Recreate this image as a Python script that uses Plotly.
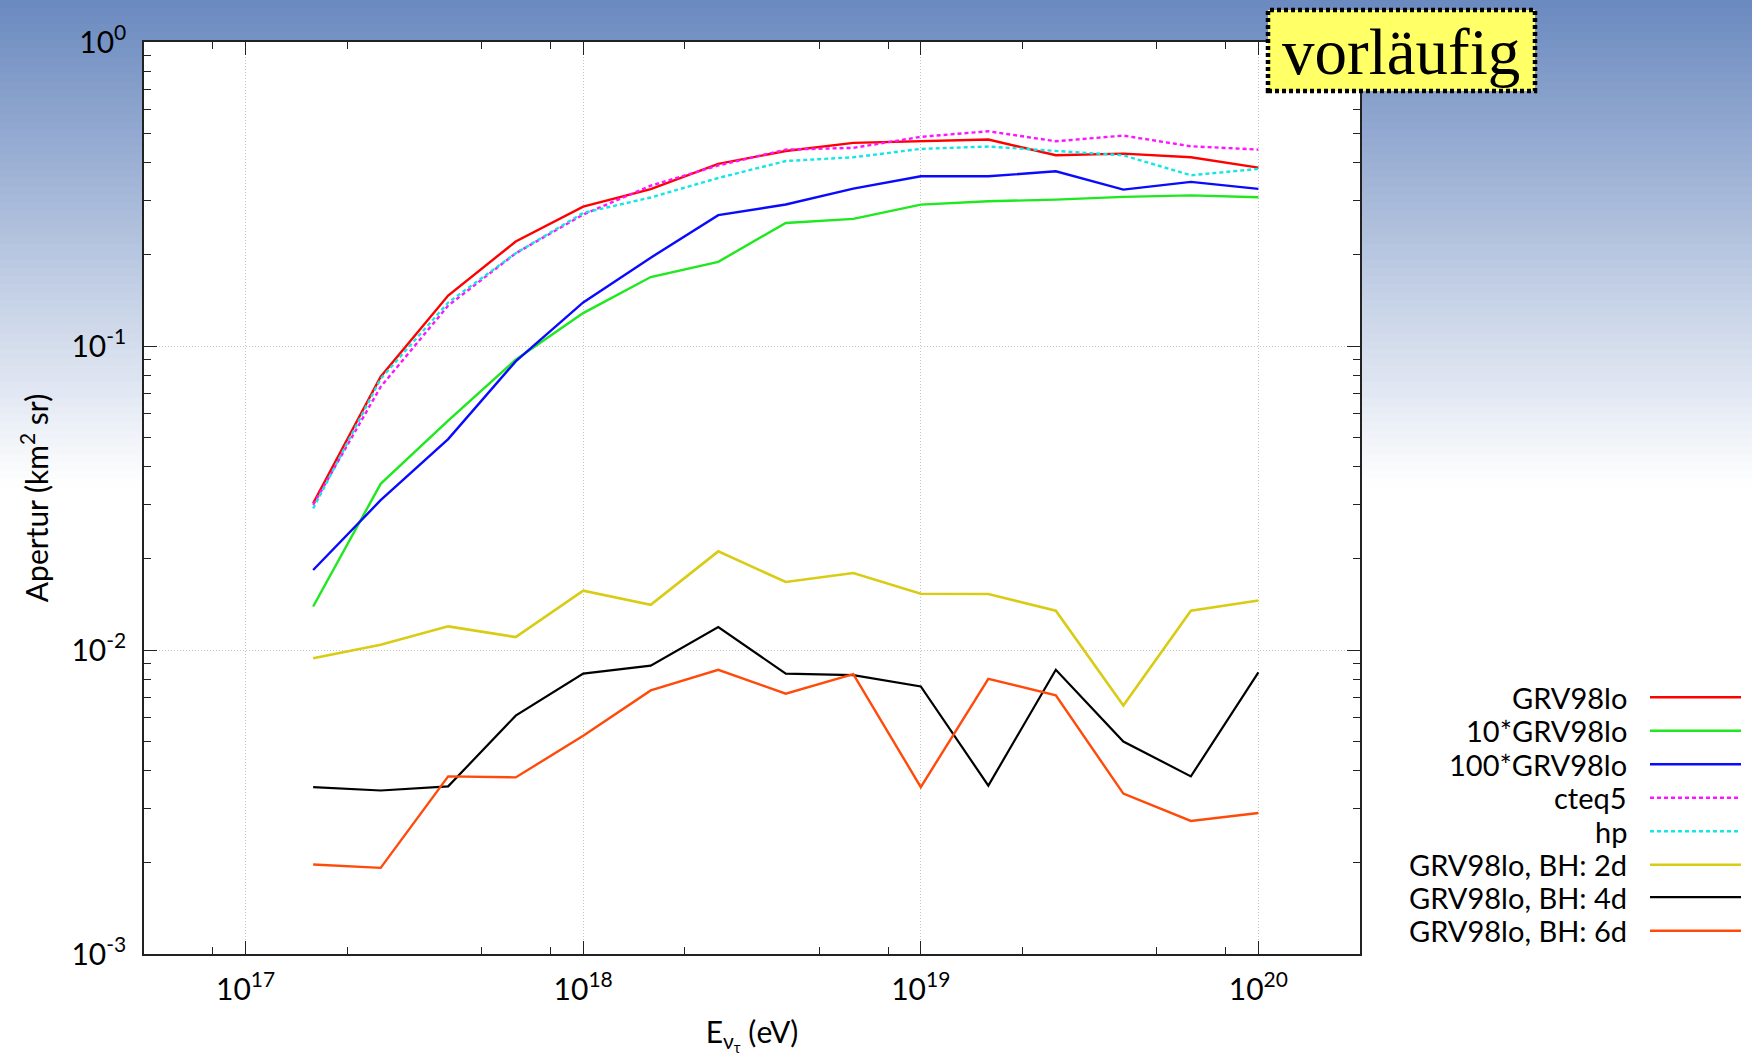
import math
import plotly.graph_objects as go

# ---------------- DATA ----------------
energy_eV = [1.585e17, 2.512e17, 3.981e17, 6.310e17, 1.000e18, 1.585e18, 2.512e18,
             3.981e18, 6.310e18, 1.000e19, 1.585e19, 2.512e19, 3.981e19, 6.310e19, 1.000e20]

grv98lo = [0.0304, 0.0793, 0.1466, 0.2206, 0.2873, 0.328, 0.3975, 0.438,
           0.4657, 0.4714, 0.4777, 0.4240, 0.4295, 0.4176, 0.386]
grv98lo_x10 = [0.0139, 0.0352, 0.0568, 0.0901, 0.1283, 0.1686, 0.1892, 0.254,
               0.262, 0.2918, 0.2993, 0.3031, 0.3093, 0.313, 0.3085]
grv98lo_x100 = [0.01833, 0.0311, 0.0494, 0.0890, 0.1391, 0.1952, 0.2695, 0.292,
                0.3295, 0.3616, 0.3616, 0.3756, 0.3269, 0.3465, 0.3286]
cteq5 = [0.0300, 0.0734, 0.1358, 0.2018, 0.2707, 0.3367, 0.3925, 0.4426,
         0.4485, 0.4875, 0.5086, 0.4715, 0.4922, 0.454, 0.4427]
hp = [0.0292, 0.078, 0.139, 0.2018, 0.274, 0.308, 0.357, 0.406,
      0.4176, 0.445, 0.453, 0.438, 0.424, 0.3644, 0.3825]
bh_2d = [0.0094, 0.01041, 0.01196, 0.01103, 0.01567, 0.01409, 0.02111, 0.01674,
         0.01792, 0.01532, 0.01528, 0.01346, 0.00657, 0.01346, 0.01455]
bh_4d = [0.00354, 0.00345, 0.00356, 0.00608, 0.00836, 0.00888, 0.0119, 0.00836,
         0.00827, 0.00759, 0.00358, 0.00861, 0.0050, 0.00384, 0.00844]
bh_6d = [0.00197, 0.00192, 0.00384, 0.00381, 0.00522, 0.00736, 0.00861, 0.00718,
         0.00833, 0.00354, 0.00804, 0.00709, 0.00337, 0.00274, 0.00291]

series_names = ["GRV98lo", "10*GRV98lo", "100*GRV98lo", "cteq5", "hp",
                "GRV98lo, BH: 2d", "GRV98lo, BH: 4d", "GRV98lo, BH: 6d"]

x_major = [1e17, 1e18, 1e19, 1e20]
x_major_labels = ["10<sup>17</sup>", "10<sup>18</sup>", "10<sup>19</sup>", "10<sup>20</sup>"]
x_minor = [8e16, 2e17, 5e17, 8e17, 2e18, 5e18, 8e18, 2e19, 5e19, 8e19]
y_major = [1e-3, 1e-2, 1e-1, 1e0]
y_major_labels = ["10<sup>-3</sup>", "10<sup>-2</sup>", "10<sup>-1</sup>", "10<sup>0</sup>"]
y_minor = [m * d for d in (1e-3, 1e-2, 1e-1) for m in (2, 3, 4, 5, 6, 7, 8, 9)]

x_title = "E<sub>ν<sub>τ</sub></sub> (eV)"
y_title = "Apertur (km<sup>2</sup> sr)"
stamp_text = "vorläufig"

# ---------------- STYLE ----------------
W, H = 1752, 1062
ML, MR, MT, MB = 144, 392, 42, 108
PW, PH = W - ML - MR, H - MT - MB
FONT = "Lato"

def px_x(X):
    return (X - ML) / PW

def px_y(Y):
    return (H - MB - Y) / PH

styles = [
    dict(color="#ff0000", width=2.4, dash="solid"),
    dict(color="#1ee81e", width=2.4, dash="solid"),
    dict(color="#0a0aff", width=2.4, dash="solid"),
    dict(color="#ff14ff", width=2.4, dash="4px,3px"),
    dict(color="#14e6e6", width=2.4, dash="4px,3px"),
    dict(color="#d8cc14", width=2.6, dash="solid"),
    dict(color="#000000", width=2.2, dash="solid"),
    dict(color="#ff4a0a", width=2.4, dash="solid"),
]
all_series = [grv98lo, grv98lo_x10, grv98lo_x100, cteq5, hp, bh_2d, bh_4d, bh_6d]

fig = go.Figure()
for name, ys, st in zip(series_names, all_series, styles):
    fig.add_trace(go.Scatter(x=energy_eV, y=ys, mode="lines", name=name,
                             line=dict(color=st["color"], width=st["width"], dash=st["dash"]),
                             showlegend=False))

shapes = []
# background gradient (blue at top fading to white)
top_rgb = (106, 137, 191)
grad_end = 487
n = 60
for i in range(n):
    y0 = grad_end * i / n
    y1 = grad_end * (i + 1) / n + 1
    t = (i + 0.5) / n
    c = tuple(round(top_rgb[k] + (255 - top_rgb[k]) * t) for k in range(3))
    shapes.append(dict(type="rect", xref="paper", yref="paper", layer="below",
                       x0=px_x(-2), x1=px_x(W + 2), y0=px_y(y1), y1=px_y(y0 - (1 if i == 0 else 0)),
                       fillcolor="rgb(%d,%d,%d)" % c, line=dict(width=0)))
# white plot area
shapes.append(dict(type="rect", xref="x domain", yref="y domain", layer="below",
                   x0=0, x1=1, y0=0, y1=1, fillcolor="white", line=dict(width=0)))

# stamp box
shapes.append(dict(type="rect", xref="paper", yref="paper", layer="above",
                   x0=px_x(1268), x1=px_x(1535), y0=px_y(91), y1=px_y(10),
                   fillcolor="#ffff66", line=dict(color="black", width=4.5, dash="4px,3px")))

annotations = [dict(xref="paper", yref="paper", x=px_x(1401), y=px_y(52),
                    text=stamp_text, showarrow=False, xanchor="center", yanchor="middle",
                    font=dict(family="Liberation Serif", size=65, color="black"))]

# manual legend (text right-aligned, sample line to the right)
row_y = [697.2, 730.7, 764.2, 797.8, 831.3, 864.8, 897.2, 930.7]
for name, st, Y in zip(series_names, styles, row_y):
    annotations.append(dict(xref="paper", yref="paper", x=px_x(1629), y=px_y(Y),
                            text=name, showarrow=False, xanchor="right", yanchor="middle",
                            font=dict(family=FONT, size=29, color="black")))
    shapes.append(dict(type="line", xref="paper", yref="paper", layer="above",
                       x0=px_x(1650), x1=px_x(1741), y0=px_y(Y), y1=px_y(Y),
                       line=dict(color=st["color"], width=st["width"], dash=st["dash"])))

axis_common = dict(
    type="log", ticks="inside", ticklen=13, tickwidth=1, tickcolor="#222",
    showline=True, linecolor="#222", linewidth=1.5, mirror="ticks",
    showgrid=True, gridcolor="#c4c4c4", gridwidth=1, griddash="1px,2px",
    zeroline=False, tickfont=dict(family=FONT, size=30, color="black"),
)

fig.update_layout(
    width=W, height=H, autosize=False,
    margin=dict(l=ML, r=MR, t=MT, b=MB, pad=0),
    paper_bgcolor="white", plot_bgcolor="white",
    font=dict(family=FONT, color="black"),
    showlegend=False,
    xaxis=dict(axis_common, range=[math.log10(5e16), math.log10(2e20)],
               tickmode="array", tickvals=x_major, ticktext=x_major_labels,
               ticklabelstandoff=8,
               minor=dict(tickmode="array", tickvals=x_minor, ticks="inside", ticklen=7,
                          tickwidth=1, tickcolor="#222", showgrid=False),
               title=dict(text=x_title, font=dict(family=FONT, size=30, color="black"), standoff=17)),
    yaxis=dict(axis_common, range=[-3, 0],
               tickmode="array", tickvals=y_major, ticktext=y_major_labels,
               ticklabelstandoff=10,
               minor=dict(tickmode="array", tickvals=y_minor, ticks="inside", ticklen=7,
                          tickwidth=1, tickcolor="#222", showgrid=False),
               title=dict(text=y_title, font=dict(family=FONT, size=30, color="black"), standoff=14)),
    shapes=shapes,
    annotations=annotations,
)

fig.write_html("out.html")
